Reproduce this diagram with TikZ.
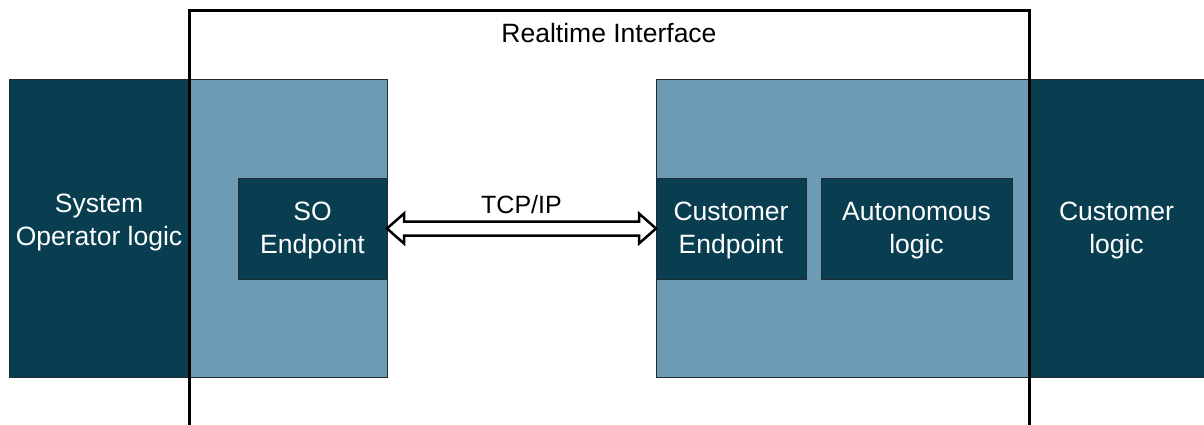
\documentclass[tikz,border=0pt]{standalone}
\usepackage{fontspec}
\setmainfont{Liberation Sans}
\usetikzlibrary{calc}
\definecolor{deep}{HTML}{083E50}
\definecolor{pale}{HTML}{6D9AB5}
\definecolor{edge}{HTML}{1E2B31}
\begin{document}
\begin{tikzpicture}[x=1pt,y=-1pt,
  box/.style={draw=edge, line width=1pt, inner sep=0pt, outer sep=0pt, anchor=north west},
  darkbox/.style={box, fill=deep},
  palebox/.style={box, fill=pale},
  boxtext/.style={font=\fontsize{26.5}{33}\selectfont, text=white, align=center, inner sep=0pt},
  caption/.style={font=\fontsize{26.5}{32}\selectfont, text=black},
  frame/.style={draw=black, line width=3pt, inner sep=0pt, outer sep=0pt, anchor=north west}]
\useasboundingbox (0,0) rectangle (1204,425);
\clip (0,0) rectangle (1204,425);
\fill[white] (0,0) rectangle (1204,425);

% outer logic blocks
\node[darkbox, minimum width=180pt, minimum height=297pt] (sol) at (9,80) {};
\node[boxtext] (soltext) at ($(sol.center)+(0,-6)$) {System\\Operator logic};
\node[darkbox, minimum width=185pt, minimum height=297pt] (cul) at (1029,80) {};
\node[boxtext] (cultext) at (1116.5,230) {Customer\\logic};

% interface sides
\node[palebox, minimum width=198pt, minimum height=297pt] (soside) at (189,80) {};
\node[palebox, minimum width=373pt, minimum height=297pt] (cuside) at (656,80) {};

% endpoints and logic
\node[darkbox, minimum width=149pt, minimum height=101pt] (soep) at (238,178) {};
\node[boxtext] (soeptext) at ($(soep.center)+(0,2)$) {SO\\Endpoint};
\node[darkbox, minimum width=150pt, minimum height=101pt] (cuep) at (656,178) {};
\node[boxtext] (cueptext) at ($(cuep.center)+(0,2)$) {Customer\\Endpoint};
\node[darkbox, minimum width=191pt, minimum height=101pt] (auto) at (821,178) {};
\node[boxtext] (autotext) at ($(auto.center)+(0,2)$) {Autonomous\\logic};

% hollow double arrow between the endpoints
\coordinate (a) at (soep.east);
\coordinate (b) at (cuep.west);
\draw[line width=2.5pt, fill=white, line join=miter]
  (a) -- ($(a)+(17,-15)$) -- ($(a)+(17,-7)$) -- ($(b)+(-17,-7)$) -- ($(b)+(-17,-15)$)
  -- (b) -- ($(b)+(-17,15)$) -- ($(b)+(-17,7)$) -- ($(a)+(17,7)$) -- ($(a)+(17,15)$) -- cycle;
\node[font=\fontsize{25}{30}\selectfont] (tcp) at ($(a)!0.5!(b)+(0,-24)$) {TCP/IP};

% realtime interface frame (open at the bottom)
\node[frame, minimum width=840pt, minimum height=440pt] (rt) at (189,11) {};
\node[caption] (rtlabel) at (609,33) {Realtime Interface};
\end{tikzpicture}
\end{document}
